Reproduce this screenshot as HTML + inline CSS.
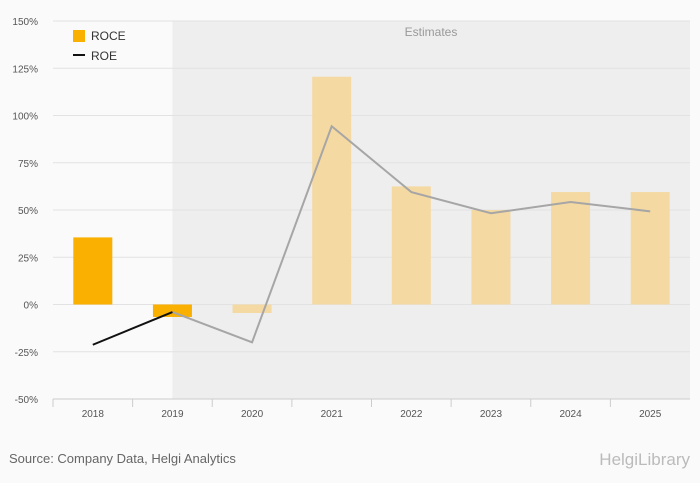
<!DOCTYPE html>
<html><head><meta charset="utf-8"><style>
body{margin:0;background:#fafafa;font-family:"Liberation Sans",sans-serif;}
svg{display:block}
</style></head><body>
<svg width="700" height="483" xmlns="http://www.w3.org/2000/svg">
<rect x="0" y="0" width="700" height="483" fill="#fafafa"/>
<g id="grid"></g>
<g id="bars"></g>
<g id="lines"></g>
<g id="axis"></g>
<text x="431" y="36" font-size="12" fill="#999" text-anchor="middle">Estimates</text>
<g>
<rect x="73" y="30" width="12" height="12" fill="#f9b000"/>
<text x="91" y="40" font-size="12" fill="#333">ROCE</text>
<line x1="73" y1="55" x2="85" y2="55" stroke="#111" stroke-width="2"/>
<text x="91" y="60" font-size="12" fill="#333">ROE</text>
</g>
<text x="9" y="463" font-size="13" fill="#666">Source: Company Data, Helgi Analytics</text>
<text x="690" y="465" font-size="17" fill="#bbb" text-anchor="end">HelgiLibrary</text>
<script>
const categories=["2018","2019","2020","2021","2022","2023","2024","2025"];
const roce=[35.5,-6.6,-4.5,120.5,62.5,50,59.5,59.5];
const roe=[-21.3,-4,-20,94.3,59.5,48.3,54.2,49.3];
const yTicks=[150,125,100,75,50,25,0,-25,-50];
const estimateStart=1;
const NS="http://www.w3.org/2000/svg";
const L=53,R=690,T=21,B=399,band=(R-L)/categories.length;
const y=v=>T+(150-v)*(B-T)/200;
const x=i=>L+band*(i+0.5);
function mk(tag,attrs,parent,text){const e=document.createElementNS(NS,tag);for(const k in attrs)e.setAttribute(k,attrs[k]);if(text!==undefined)e.textContent=text;document.getElementById(parent).appendChild(e);return e;}
const sh=mk('rect',{x:x(estimateStart),y:T,width:R-x(estimateStart),height:B-T,fill:'#eeeeee'},'grid');


yTicks.forEach(t=>{
 const g=mk('line',{x1:L,x2:R,y1:y(t),y2:y(t),stroke:'#e2e2e2','stroke-width':1},'grid');
 
 
 const lb=mk('text',{x:38,y:y(t)+4,'font-size':10,fill:'#555','text-anchor':'end'},'axis',t+'%');
 
 
});
const ax=mk('line',{x1:L,x2:R,y1:B,y2:B,stroke:'#ccc'},'axis');


categories.forEach((c,i)=>{
 const tk=mk('line',{x1:L+band*i,x2:L+band*i,y1:B,y2:B+8,stroke:'#ccc'},'axis');
 
 
 const lb=mk('text',{x:x(i),y:417,'font-size':10,fill:'#555','text-anchor':'middle'},'axis',c);
 
 
 const v=roce[i];
 const b=mk('rect',{x:x(i)-19.5,y:Math.min(y(v),y(0)),width:39,height:Math.abs(y(v)-y(0)),fill:i<=estimateStart?'#f9b000':'#f5d9a2'},'bars');
 
 
});
const p1=roe.slice(0,estimateStart+1).map((v,i)=>x(i)+','+y(v)).join(' ');
const p2=roe.map((v,i)=>[i,v]).slice(estimateStart).map(([i,v])=>x(i)+','+y(v)).join(' ');
const l2=mk('polyline',{points:p2,fill:'none',stroke:'#a6a6a6','stroke-width':2},'lines');


const l1=mk('polyline',{points:p1,fill:'none',stroke:'#111','stroke-width':2},'lines');


</script>
</svg>
</body></html>
